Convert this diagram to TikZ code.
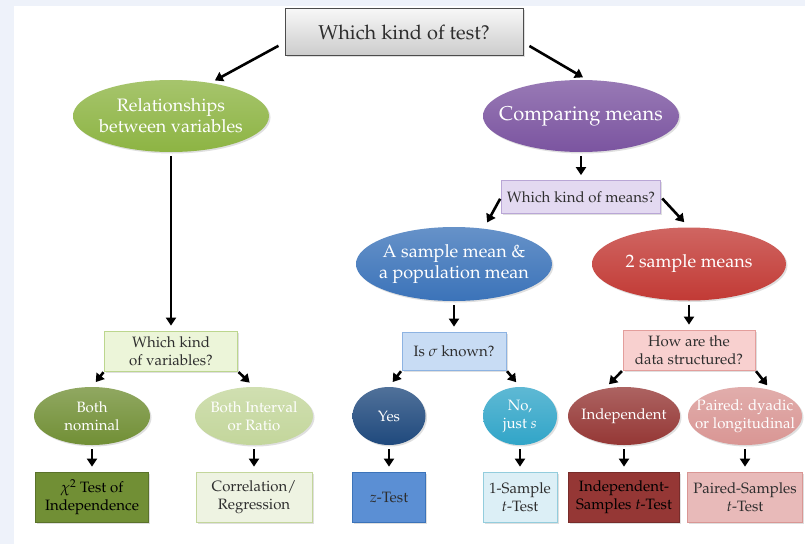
\documentclass[tikz,border=0pt]{standalone}
\usepackage[T1]{fontenc}
\usepackage{mathpazo}
\usepackage{xcolor}
\usetikzlibrary{arrows.meta, shapes.geometric, shadows}
\definecolor{pagebg}{HTML}{EEF2FA}
\definecolor{txtdark}{HTML}{2E2E2E}
\definecolor{relgreen}{HTML}{8DB443}
\definecolor{cmppurple}{HTML}{7B54A0}
\definecolor{smpblue}{HTML}{3B73B9}
\definecolor{tsmred}{HTML}{C23A35}
\definecolor{nomolive}{HTML}{718F35}
\definecolor{intvgreen}{HTML}{C3D69B}
\definecolor{yesnavy}{HTML}{1F497D}
\definecolor{nosteal}{HTML}{31A5C8}
\definecolor{indred}{HTML}{953735}
\definecolor{parpink}{HTML}{D99694}
\definecolor{meansfill}{HTML}{E3D9F1}
\definecolor{meansdraw}{HTML}{B9A6D6}
\definecolor{sigfill}{HTML}{C8DCF4}
\definecolor{sigdraw}{HTML}{8DB3E2}
\definecolor{howfill}{HTML}{F8D0CF}
\definecolor{howdraw}{HTML}{E39E9C}
\definecolor{varsfill}{HTML}{ECF5D9}
\definecolor{varsdraw}{HTML}{BCD68E}
\definecolor{corfill}{HTML}{EEF3E2}
\definecolor{ostfill}{HTML}{DCEFF6}
\definecolor{ostdraw}{HTML}{93CDDD}
\definecolor{ztfill}{HTML}{5B8FD4}
\definecolor{pstfill}{HTML}{E8BAB9}
\tikzset{
	nodeshadow/.style={drop shadow={shadow xshift=1.5pt, shadow yshift=-1.5pt, opacity=0.25}},
	oval/.style={ellipse, inner xsep=-30pt, inner ysep=-12pt, align=center, text=white, top color=#1!78!white, bottom color=#1, nodeshadow},
	qbox/.style 2 args={rectangle, inner sep=0pt, align=center, text=txtdark, fill=#1, draw=#2, line width=0.8pt, nodeshadow},
	arr/.style={draw, line width=2.6pt, -{Triangle[width=10pt, length=8pt]}, shorten <=4pt, shorten >=5pt}
}

\begin{document}
\begin{tikzpicture}[
	x=1pt, y=-1pt,
	% --- Style Definitions ---
	bigtext/.style={font=\fontsize{18}{21}\selectfont},
	midtext/.style={font=\fontsize{15}{18}\selectfont},
	]
	
	% --- Page & Background ---
	\useasboundingbox (0,0) rectangle (805,544);
	\fill[pagebg] (0,0) rectangle (805,544);
	\fill[white] (14,6) rectangle (805,544);
	
	% --- Top Question ---
	\node[rectangle, minimum width=238, minimum height=47, top color=gray!6, bottom color=gray!40,
		draw=gray!60!black, line width=0.8pt, text=txtdark, font=\fontsize{20}{24}\selectfont, nodeshadow]
		(test) at (404,32) {Which kind of test?};
	
	% --- Second Level ---
	\node[oval=relgreen, minimum width=196, minimum height=72, bigtext] (rel) at (171,116)
		{Relationships\\between variables};
	\node[oval=cmppurple, minimum width=196, minimum height=72, font=\fontsize{20}{24}\selectfont] (cmp) at (581,116)
		{Comparing means};
	
	% --- Means Branch ---
	\node[qbox={meansfill}{meansdraw}, minimum width=159, minimum height=33, midtext] (means) at (581,197)
		{Which kind of means?};
	\node[oval=smpblue, minimum width=196, minimum height=74, bigtext] (smp) at (454,264)
		{A sample mean \&\\a population mean};
	\node[oval=tsmred, minimum width=194, minimum height=73, bigtext] (tsm) at (689,264)
		{2 sample means};
	
	% --- Third Level Questions ---
	\node[qbox={varsfill}{varsdraw}, minimum width=133, minimum height=40, midtext] (vars) at (171,351)
		{Which kind\\of variables?};
	\node[qbox={sigfill}{sigdraw}, minimum width=104, minimum height=38, midtext] (sig) at (454,351)
		{Is $\sigma$ known?};
	\node[qbox={howfill}{howdraw}, minimum width=132, minimum height=40, midtext] (how) at (689,350)
		{How are the\\data structured?};
	
	% --- Fourth Level Answers ---
	\node[oval=nomolive, minimum width=116, minimum height=58, midtext] (nom) at (92,416) {Both\\nominal};
	\node[oval=intvgreen, minimum width=118, minimum height=58, midtext] (intv) at (254,416) {Both Interval\\or Ratio};
	\node[oval=yesnavy, minimum width=73, minimum height=58, midtext] (yes) at (389,416) {Yes};
	\node[oval=nosteal, minimum width=74, minimum height=58, midtext] (nos) at (520,416) {No,\\just $s$};
	\node[oval=indred, minimum width=112, minimum height=58, midtext] (ind) at (624,416) {Independent};
	\node[oval=parpink, minimum width=114, minimum height=58, midtext] (par) at (745,416) {Paired: dyadic\\or longitudinal};
	
	% --- Tests ---
	\node[qbox={nomolive}{nomolive!80!black}, minimum width=113, minimum height=50, midtext, text=black] (chi) at (92,497)
		{$\chi^2$ Test of\\Independence};
	\node[qbox={corfill}{intvgreen}, minimum width=116, minimum height=50, midtext] (cor) at (254,497)
		{Correlation/\\Regression};
	\node[qbox={ztfill}{smpblue}, minimum width=73, minimum height=50, midtext] (zt) at (389,497)
		{$z$-Test};
	\node[qbox={ostfill}{ostdraw}, minimum width=74, minimum height=50, midtext] (ost) at (520,497)
		{1-Sample\\$t$-Test};
	\node[qbox={indred}{indred!80!black}, minimum width=111, minimum height=50, midtext, text=black] (ist) at (624,497)
		{Independent-\\Samples $t$-Test};
	\node[qbox={pstfill}{parpink}, minimum width=115, minimum height=50, midtext] (pst) at (745,497)
		{Paired-Samples\\$t$-Test};
	
	% --- Connectors ---
	\draw[arr, shorten <=7pt] (test.185) -- (rel.40);
	\draw[arr, shorten <=7pt] (test.-5) -- (cmp.80);
	\draw[arr] (rel.south) -- (vars.north);
	\draw[arr] (cmp.south) -- (means.north);
	\draw[arr, shorten <=2pt, shorten >=7pt] (means.west) -- (smp.50);
	\draw[arr, shorten <=2pt, shorten >=7pt] (means.east) -- (tsm.north);
	\draw[arr] (smp.south) -- (sig.north);
	\draw[arr] (tsm.south) -- (how.north);
	% question boxes to answers
	\foreach \q/\a/\b in {vars/nom.north/intv.north, sig/yes.north/nos.north, how/ind.125/par.45} {
		\draw[arr, shorten <=1pt, shorten >=6pt] (\q.south west) -- (\a);
		\draw[arr, shorten <=1pt, shorten >=6pt] (\q.south east) -- (\b);
	}
	% answers to tests
	\foreach \a/\t in {nom/chi, intv/cor, yes/zt, nos/ost, ind/ist, par/pst}
		\draw[arr] (\a.south) -- (\t.north);
	
\end{tikzpicture}
\end{document}
